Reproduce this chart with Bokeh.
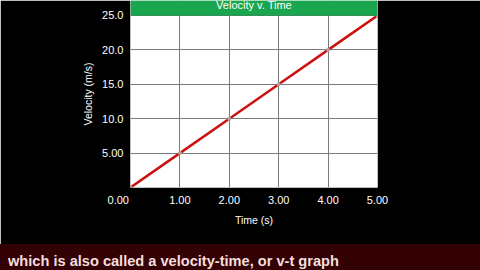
from bokeh.plotting import figure
from bokeh.models import BoxAnnotation, Label, FixedTicker, Range1d, Div
from bokeh.layouts import column
from bokeh.embed import file_html
from bokeh.resources import INLINE

time_s = [0, 1, 2, 3, 4, 5]
velocity = [0, 5, 10, 15, 20, 25]
x_ticks = [0, 1, 2, 3, 4, 5]
y_ticks = [0, 5, 10, 15, 20, 25]
NBSP = "\u00a0"
x_tick_labels = {0: "0.00" + NBSP * 8, 1: "1.00", 2: "2.00", 3: "3.00", 4: "4.00", 5: "5.00"}
y_tick_labels = {0: "", 5: "5.00", 10: "10.0", 15: "15.0", 20: "20.0", 25: "25.0"}
title_text = "Velocity v. Time"
caption = "which is also called a velocity-time, or v-t graph"

FONT = "Liberation Sans"

p = figure(width=480, height=244, output_backend="svg", toolbar_location=None,
           x_range=Range1d(0, 5), y_range=Range1d(0, 27.18),
           min_border_left=130, min_border_right=103, min_border_top=0, min_border_bottom=57)
p.background_fill_color = "white"
p.border_fill_color = "black"
p.outline_line_color = None

for ax in (p.xaxis[0], p.yaxis[0]):
    ax.axis_line_color = None
    ax.major_tick_line_color = None
    ax.minor_tick_line_color = None
    ax.major_label_text_color = "white"
    ax.major_label_text_font = FONT
    ax.major_label_text_font_size = "11px"
    ax.axis_label_text_color = "white"
    ax.axis_label_text_font = FONT
    ax.axis_label_text_font_size = "10.5px"
    ax.axis_label_text_font_style = "normal"

p.xaxis.ticker = FixedTicker(ticks=x_ticks)
p.yaxis.ticker = FixedTicker(ticks=y_ticks)
p.xaxis.major_label_overrides = x_tick_labels
p.yaxis.major_label_overrides = y_tick_labels
p.xaxis.major_label_standoff = 0
p.yaxis.major_label_standoff = 1
p.xaxis.axis_label = "Time (s)"
p.yaxis.axis_label = "Velocity (m/s)"
p.xaxis.axis_label_standoff = 5
p.yaxis.axis_label_standoff = 5

p.grid.grid_line_color = "#7a7a7a"
p.grid.grid_line_width = 1
p.xgrid.ticker = FixedTicker(ticks=x_ticks)
p.ygrid.ticker = FixedTicker(ticks=y_ticks)

# green title bar
p.add_layout(BoxAnnotation(bottom=velocity[-1], fill_color="#1aa64f", fill_alpha=1,
                           line_color="#128a3e", line_width=1))
p.add_layout(Label(x=2.5, y=velocity[-1], y_offset=4, text=title_text, text_align="center",
                   text_baseline="bottom", text_color="white", text_font=FONT,
                   text_font_size="11px"))

p.line(time_s, velocity, line_color="#cc1111", line_width=2.5)
p.scatter(time_s, velocity, size=4, fill_color="#b0a0a0", line_color=None)

band = Div(text=caption, width=480, height=26,
           styles={"background-color": "#330003", "color": "#f3dede",
                   "font-family": "'Liberation Sans', Arial, sans-serif",
                   "font-size": "14.6px", "font-weight": "bold", "line-height": "15px",
                   "padding-top": "10px", "padding-left": "8px", "box-sizing": "border-box",
                   "overflow": "hidden", "white-space": "nowrap", "margin": "0"})

layout = column(p, band, spacing=0)
open("out.html", "w").write(file_html(layout, INLINE))
